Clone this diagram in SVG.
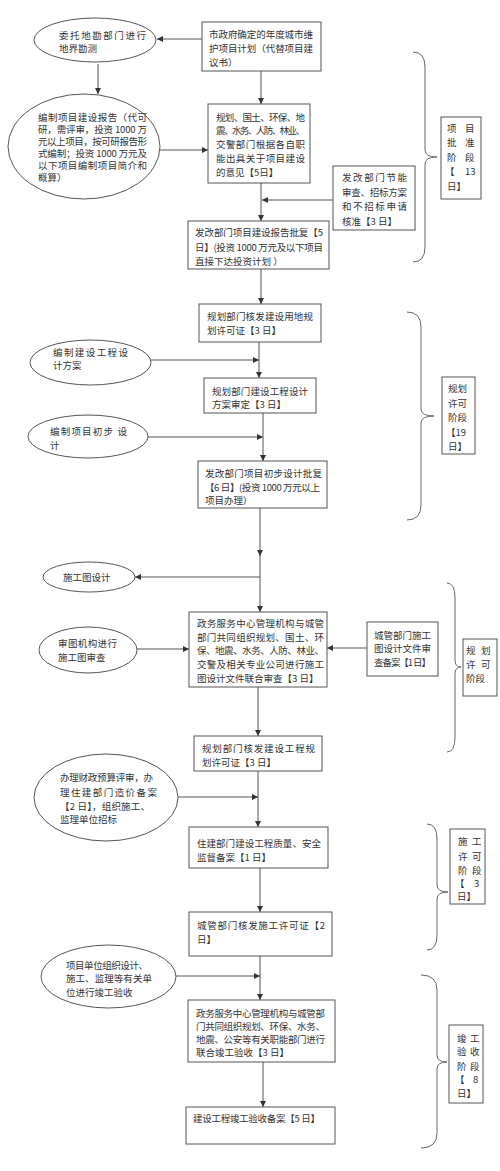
<svg xmlns="http://www.w3.org/2000/svg" width="500" height="1171" viewBox="0 0 500 1171">
<style>
.bg{fill:#fff}
.n{fill:#fff;stroke:#555;stroke-width:1}
.t{font-family:"Noto Sans CJK SC","Liberation Sans",sans-serif;font-size:9.5px;fill:#333}
.c{stroke:#555;stroke-width:1;fill:none}
.br{stroke:#666;stroke-width:1;fill:none}
</style>
<defs>
<marker id="ah" viewBox="0 0 8 8" refX="8" refY="4" markerWidth="6" markerHeight="6" markerUnits="userSpaceOnUse" orient="auto">
<path d="M0,0 L8,4 L0,8 z" fill="#333"/>
</marker>
</defs>
<rect class="bg" x="0" y="0" width="500" height="1171"/>

<g id="connectors">
<line class="c" x1="202" y1="39" x2="157" y2="39" marker-end="url(#ah)"/>
<line class="c" x1="98" y1="64" x2="98" y2="94" marker-end="url(#ah)"/>
<line class="c" x1="261" y1="71" x2="261" y2="104" marker-end="url(#ah)"/>
<line class="c" x1="160" y1="150" x2="208" y2="150" marker-end="url(#ah)"/>
<line class="c" x1="261" y1="183" x2="261" y2="221" marker-end="url(#ah)"/>
<line class="c" x1="333" y1="200" x2="262" y2="200" marker-end="url(#ah)"/>
<line class="c" x1="261" y1="269" x2="261" y2="304" marker-end="url(#ah)"/>
<line class="c" x1="259" y1="342" x2="259" y2="378" marker-end="url(#ah)"/>
<line class="c" x1="151" y1="360" x2="259" y2="360" marker-end="url(#ah)"/>
<line class="c" x1="263" y1="413" x2="263" y2="461" marker-end="url(#ah)"/>
<line class="c" x1="148" y1="437" x2="263" y2="437" marker-end="url(#ah)"/>
<line class="c" x1="260" y1="508" x2="260" y2="556" marker-end="url(#ah)"/>
<line class="c" x1="260" y1="555" x2="260" y2="612" marker-end="url(#ah)"/>
<line class="c" x1="260" y1="577" x2="135" y2="577" marker-end="url(#ah)"/>
<line class="c" x1="137" y1="649" x2="189" y2="649" marker-end="url(#ah)"/>
<line class="c" x1="367" y1="648" x2="327" y2="648" marker-end="url(#ah)"/>
<line class="c" x1="258" y1="687" x2="258" y2="736" marker-end="url(#ah)"/>
<line class="c" x1="258" y1="771" x2="258" y2="827" marker-end="url(#ah)"/>
<line class="c" x1="178" y1="797" x2="258" y2="797" marker-end="url(#ah)"/>
<line class="c" x1="260" y1="868" x2="260" y2="912" marker-end="url(#ah)"/>
<line class="c" x1="260" y1="956" x2="260" y2="1000" marker-end="url(#ah)"/>
<line class="c" x1="176" y1="976" x2="260" y2="976" marker-end="url(#ah)"/>
<line class="c" x1="263" y1="1062" x2="263" y2="1107" marker-end="url(#ah)"/>
</g>

<g id="braces">
<path class="br" d="M413,52 Q425,52 425,67 L425,150 Q425,157 437,157 Q425,157 425,164 L425,247 Q425,262 413,262"/>
<path class="br" d="M407,312 Q421,312 421,327 L421,409 Q421,416 434,416 Q421,416 421,423 L421,505 Q421,520 407,520"/>
<path class="br" d="M447,583 Q455,583 455,598 L455,660 Q455,667 461,667 Q455,667 455,674 L455,737 Q455,752 447,752"/>
<path class="br" d="M427,824 Q437,824 437,839 L437,885 Q437,892 448,892 Q437,892 437,899 L437,935 Q437,950 427,950"/>
<path class="br" d="M421,975 Q437,975 437,990 L437,1055 Q437,1062 447,1062 Q437,1062 437,1069 L437,1133 Q437,1148 421,1148"/>
</g>

<g id="n1">
<rect class="n" x="202" y="22" width="119" height="49"/>
<text class="t" x="209" y="38" textLength="104">市政府确定的年度城市维</text>
<text class="t" x="209" y="52" textLength="104">护项目计划（代替项目建</text>
<text class="t" x="209" y="66">议书）</text>
</g>
<g id="eA">
<ellipse class="n" cx="95" cy="40" rx="61" ry="22"/>
<text class="t" x="59" y="39" textLength="87">委托地勘部门进行</text>
<text class="t" x="59" y="52">地界勘测</text>
</g>
<g id="eB">
<ellipse class="n" cx="84" cy="146.5" rx="76" ry="52.5"/>
<text class="t" x="38" y="121" textLength="109">编制项目建设报告（代可</text>
<text class="t" x="38" y="133" textLength="109">研，需评审，投资 1000 万</text>
<text class="t" x="38" y="145" textLength="109">元以上项目，按可研报告形</text>
<text class="t" x="38" y="157" textLength="109">式编制；投资 1000 万元及</text>
<text class="t" x="38" y="169" textLength="109">以下项目编制项目简介和</text>
<text class="t" x="38" y="181">概算）</text>
</g>
<g id="n2">
<rect class="n" x="208" y="104" width="102" height="79"/>
<text class="t" x="216" y="121" textLength="89">规划、国土、环保、地</text>
<text class="t" x="216" y="134" textLength="89">震、水务、人防、林业、</text>
<text class="t" x="216" y="148" textLength="89">交警部门根据各自职</text>
<text class="t" x="216" y="162" textLength="89">能出具关于项目建设</text>
<text class="t" x="216" y="176">的意见【5日】</text>
</g>
<g id="n3">
<rect class="n" x="333" y="166" width="82" height="64"/>
<text class="t" x="342" y="181" textLength="65">发改部门节能</text>
<text class="t" x="342" y="196" textLength="65">审查、招标方案</text>
<text class="t" x="342" y="210" textLength="65">和不招标申请</text>
<text class="t" x="342" y="225">核准【3 日】</text>
</g>
<g id="n4">
<rect class="n" x="188" y="221" width="141" height="48"/>
<text class="t" x="195" y="236" textLength="128">发改部门项目建设报告批复【5</text>
<text class="t" x="195" y="251" textLength="128">日】(投资 1000 万元及以下项目</text>
<text class="t" x="195" y="265">直接下达投资计划 ）</text>
</g>
<g id="L1">
<rect class="n" x="441" y="117" width="40" height="82"/>
<text class="t" x="447 465" y="132">项目</text>
<text class="t" x="447 465" y="146">批准</text>
<text class="t" x="447 465" y="161">阶段</text>
<text class="t" x="445 465" y="175">【13</text>
<text class="t" x="447" y="190">日】</text>
</g>

<g id="n5">
<rect class="n" x="199" y="304" width="122" height="38"/>
<text class="t" x="207" y="320" textLength="106">规划部门核发建设用地规</text>
<text class="t" x="207" y="334">划许可证【3 日】</text>
</g>
<g id="eC">
<ellipse class="n" cx="90.5" cy="362.5" rx="60.5" ry="22.5"/>
<text class="t" x="53" y="356" textLength="75">编制建设工程设</text>
<text class="t" x="53" y="369">计方案</text>
</g>
<g id="n6">
<rect class="n" x="204" y="378" width="112" height="35"/>
<text class="t" x="212" y="395" textLength="96">规划部门建设工程设计</text>
<text class="t" x="212" y="408">方案审定【3 日】</text>
</g>
<g id="eD">
<ellipse class="n" cx="88" cy="436.5" rx="60" ry="21.5"/>
<text class="t" x="50" y="435" textLength="77">编制项目初步 设</text>
<text class="t" x="50" y="449">计</text>
</g>
<g id="n7">
<rect class="n" x="198" y="461" width="129" height="47"/>
<text class="t" x="205" y="477" textLength="117">发改部门项目初步设计批复</text>
<text class="t" x="205" y="491" textLength="115">【6 日】(投资 1000 万元以上</text>
<text class="t" x="205" y="504">项目办理）</text>
</g>
<g id="L2">
<rect class="n" x="442" y="377" width="33" height="77"/>
<text class="t" x="448" y="392">规划</text>
<text class="t" x="448" y="407">许可</text>
<text class="t" x="448" y="421">阶段</text>
<text class="t" x="446" y="436">【19</text>
<text class="t" x="448" y="450">日】</text>
</g>

<g id="eE">
<ellipse class="n" cx="89" cy="577" rx="46" ry="15"/>
<text class="t" x="63" y="581">施工图设计</text>
</g>
<g id="n8">
<rect class="n" x="189" y="612" width="138" height="75"/>
<text class="t" x="197" y="627" textLength="127">政务服务中心管理机构与城管</text>
<text class="t" x="197" y="641" textLength="127">部门共同组织规划、国土、环</text>
<text class="t" x="197" y="654" textLength="127">保、地震、水务、人防、林业、</text>
<text class="t" x="197" y="668" textLength="127">交警及相关专业公司进行施工</text>
<text class="t" x="197" y="682">图设计文件联合审查【3 日】</text>
</g>
<g id="eF">
<ellipse class="n" cx="88" cy="650" rx="49" ry="23"/>
<text class="t" x="58" y="647" textLength="59">审图机构进行</text>
<text class="t" x="58" y="661">施工图审查</text>
</g>
<g id="n9">
<rect class="n" x="367" y="622" width="71" height="54"/>
<text class="t" x="374" y="639" textLength="57">城管部门施工</text>
<text class="t" x="374" y="652" textLength="57">图设计文件审</text>
<text class="t" x="374" y="666" textLength="57">查备案【1 日】</text>
</g>
<g id="L3">
<rect class="n" x="463" y="639" width="34" height="57"/>
<text class="t" x="466 481" y="654">规划</text>
<text class="t" x="466 481" y="668">许可</text>
<text class="t" x="466" y="682">阶段</text>
</g>

<g id="n10">
<rect class="n" x="194" y="736" width="128" height="35"/>
<text class="t" x="202" y="752" textLength="113">规划部门核发建设工程规</text>
<text class="t" x="202" y="766">划许可证【3 日】</text>
</g>
<g id="eG">
<ellipse class="n" cx="106" cy="797.5" rx="72" ry="43.5"/>
<text class="t" x="60" y="781" textLength="93">办理财政预算评审，办</text>
<text class="t" x="60" y="796" textLength="97">理住建部门造价备案</text>
<text class="t" x="60" y="810" textLength="90">【2 日】，组织施工、</text>
<text class="t" x="60" y="823">监理单位招标</text>
</g>
<g id="n11">
<rect class="n" x="189" y="827" width="139" height="41"/>
<text class="t" x="197" y="847" textLength="124">住建部门建设工程质量、安全</text>
<text class="t" x="197" y="861">监督备案【1 日】</text>
</g>
<g id="n12">
<rect class="n" x="189" y="912" width="143" height="44"/>
<text class="t" x="197" y="929" textLength="128">城管部门核发施工许可证【2</text>
<text class="t" x="197" y="943">日】</text>
</g>
<g id="L4">
<rect class="n" x="450" y="829" width="35" height="75"/>
<text class="t" x="458 472" y="845">施工</text>
<text class="t" x="458 472" y="860">许可</text>
<text class="t" x="458 472" y="874">阶段</text>
<text class="t" x="455 474" y="887">【3</text>
<text class="t" x="457" y="900">日】</text>
</g>

<g id="eH">
<ellipse class="n" cx="108.5" cy="976.5" rx="67.5" ry="31.5"/>
<text class="t" x="66" y="969" textLength="82">项目单位组织设计、</text>
<text class="t" x="66" y="982" textLength="86">施工、监理等有关单</text>
<text class="t" x="66" y="996">位进行竣工验收</text>
</g>
<g id="n13">
<rect class="n" x="188" y="1000" width="147" height="62"/>
<text class="t" x="196" y="1017" textLength="129">政务服务中心管理机构与城管部</text>
<text class="t" x="196" y="1030" textLength="129">门共同组织规划、环保、水务、</text>
<text class="t" x="196" y="1043" textLength="129">地震、公安等有关职能部门进行</text>
<text class="t" x="196" y="1056">联合竣工验收【3 日】</text>
</g>
<g id="n14">
<rect class="n" x="186" y="1107" width="149" height="37"/>
<text class="t" x="193" y="1122" textLength="127">建设工程竣工验收备案【5 日】</text>
</g>
<g id="L5">
<rect class="n" x="449" y="1025" width="34" height="78"/>
<text class="t" x="457 470" y="1042">竣工</text>
<text class="t" x="457 470" y="1055">验收</text>
<text class="t" x="457 470" y="1070">阶段</text>
<text class="t" x="455 473" y="1083">【8</text>
<text class="t" x="457" y="1097">日】</text>
</g>
</svg>
